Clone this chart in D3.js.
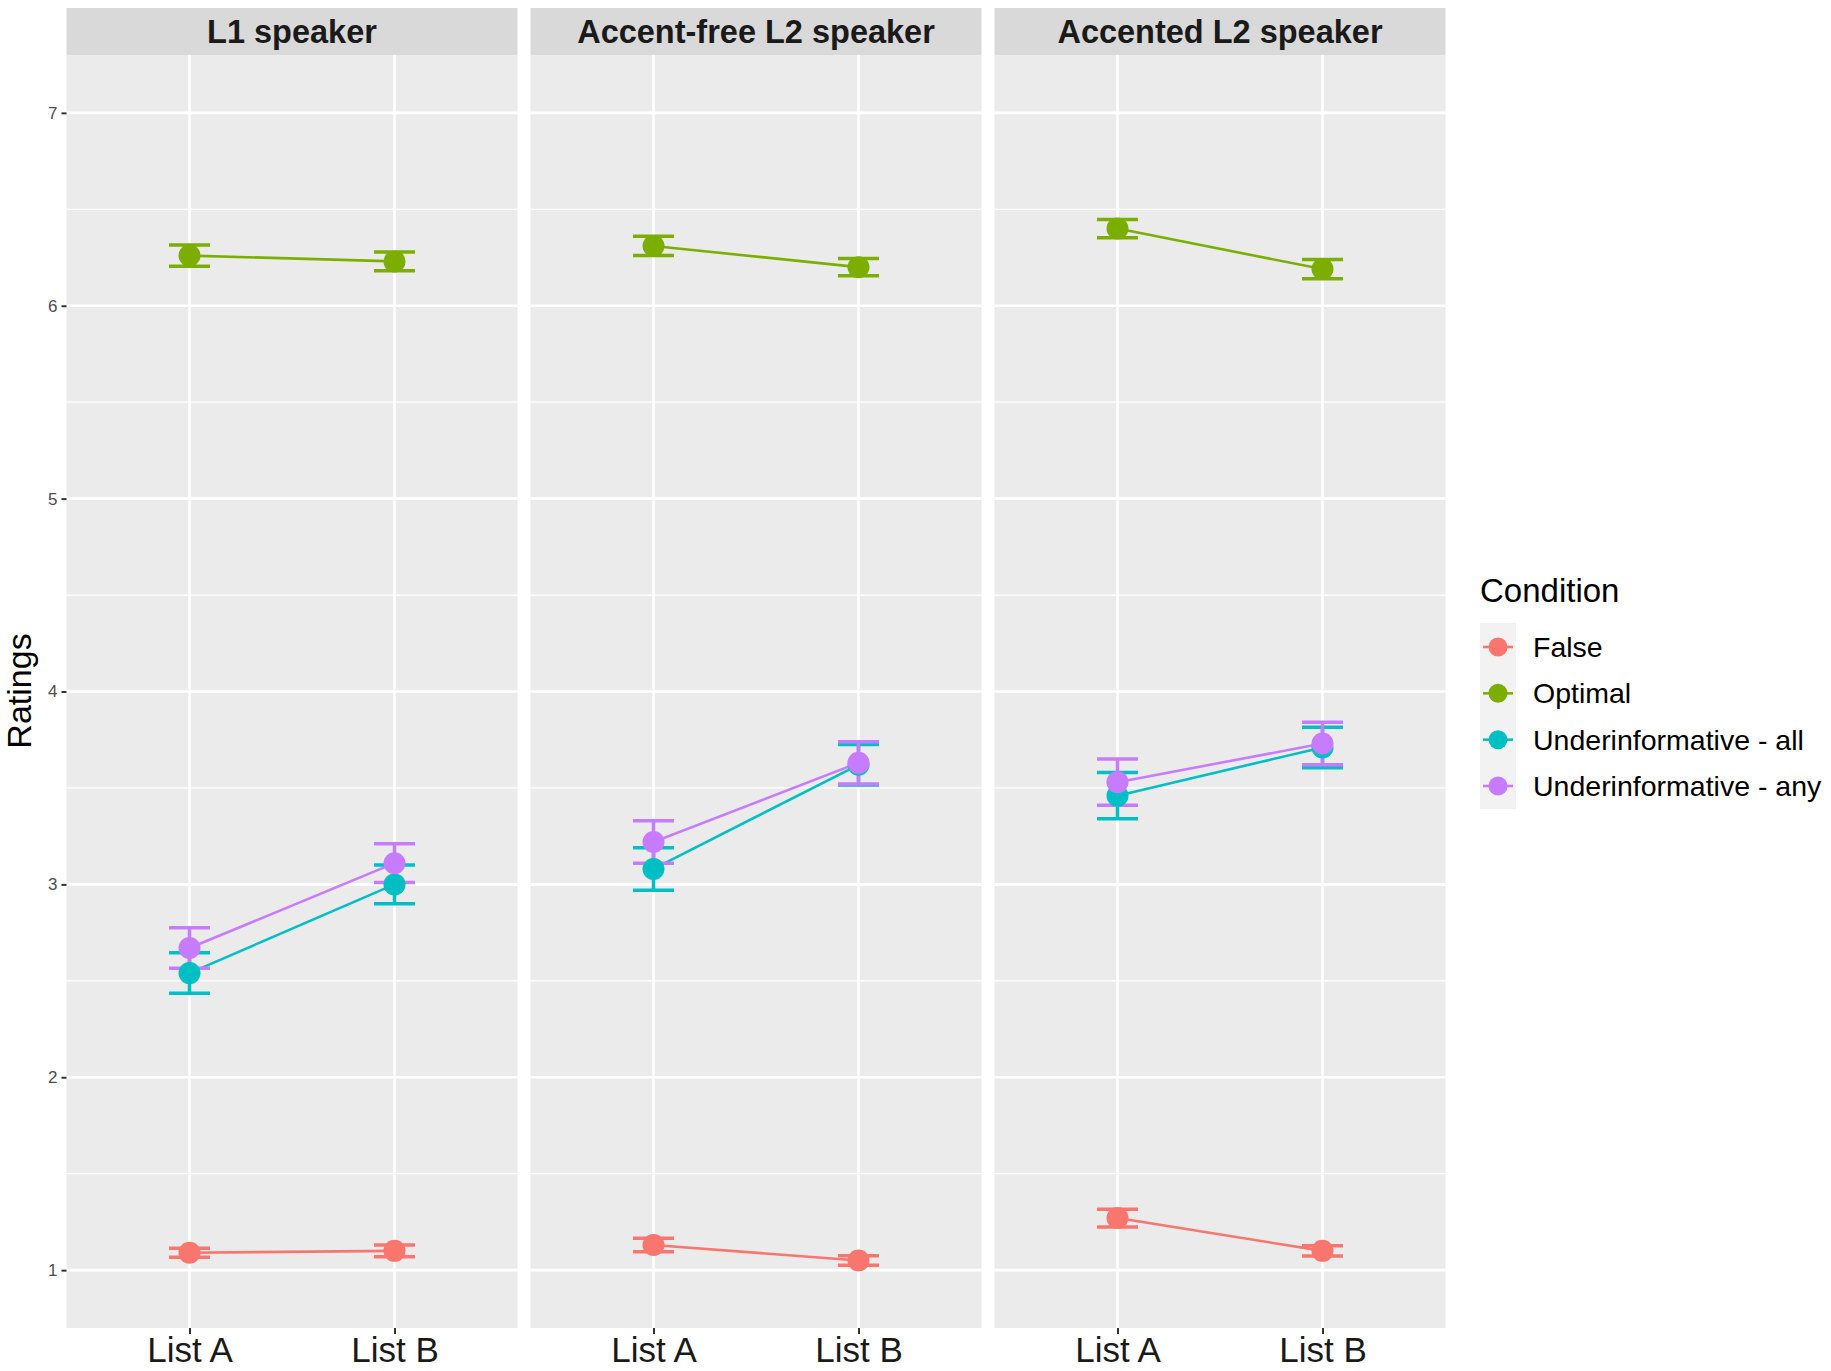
<!DOCTYPE html>
<html>
<head>
<meta charset="utf-8">
<script src="https://cdn.jsdelivr.net/npm/d3@7"></script>
<style>
  body { margin: 0; background: #fff; }
  text { font-family: "Liberation Sans", Arial, sans-serif; }
</style>
</head>
<body>
<div class="graphHere"></div>
<script>
// data
var speakers = ["L1 speaker", "Accent-free L2 speaker", "Accented L2 speaker"];
var lists = ["List A", "List B"];
var conditions = ["False", "Optimal", "Underinformative - all", "Underinformative - any"];
var colours = ["#F8766D", "#7CAE00", "#00BFC4", "#C77CFF"];
var yTicks = [1, 2, 3, 4, 5, 6, 7];

// means and standard errors, order: L1 A, L1 B, free A, free B, accented A, accented B
var falseMean = [1.09, 1.10, 1.13, 1.05, 1.27, 1.10];
var falseSE = [0.023, 0.03, 0.035, 0.025, 0.046, 0.027];
var optimalMean = [6.26, 6.23, 6.31, 6.20, 6.40, 6.19];
var optimalSE = [0.055, 0.048, 0.05, 0.045, 0.047, 0.05];
var allMean = [2.54, 3.00, 3.08, 3.62, 3.46, 3.71];
var allSE = [0.105, 0.10, 0.11, 0.105, 0.12, 0.105];
var anyMean = [2.67, 3.11, 3.22, 3.63, 3.53, 3.73];
var anySE = [0.105, 0.10, 0.11, 0.11, 0.12, 0.11];

var means = [falseMean, optimalMean, allMean, anyMean];
var ses = [falseSE, optimalSE, allSE, anySE];

var rows = [];
conditions.forEach(function(c, ci){
  speakers.forEach(function(s, si){
    lists.forEach(function(l, li){
      var k = si * 2 + li;
      rows.push({condition: c, speaker: s, list: l, mean: means[ci][k], se: ses[ci][k]});
    });
  });
});

var W = 1831, H = 1371;
var svg = d3.select(".graphHere").append("svg")
  .attr("width", W)
  .attr("height", H);

var stripTop = 8, plotTop = 55, plotBottom = 1328;

var facet = d3.scaleBand().domain(speakers).range([66.5, 1445.5]).paddingInner(0.028).paddingOuter(0);
var y = d3.scaleLinear().domain([0.7, 7.3]).range([plotBottom, plotTop]);
var colour = d3.scaleOrdinal().domain(conditions).range(colours);
var minorTicks = [1.5, 2.5, 3.5, 4.5, 5.5, 6.5];

speakers.forEach(function(s){
  var x0 = facet(s), bw = facet.bandwidth();
  var x = d3.scalePoint().domain(lists).range([x0, x0 + bw]).padding(0.6);
  var g = svg.append("g").attr("class", "panel");

  g.append("rect")
    .attr("x", x0).attr("y", plotTop)
    .attr("width", bw).attr("height", plotBottom - plotTop)
    .attr("fill", "#EBEBEB");

  g.selectAll(".minor").data(minorTicks).enter().append("line")
    .attr("x1", x0).attr("x2", x0 + bw)
    .attr("y1", function(d){ return y(d); }).attr("y2", function(d){ return y(d); })
    .attr("stroke", "#fff").attr("stroke-width", 1.3);

  g.selectAll(".major").data(yTicks).enter().append("line")
    .attr("x1", x0).attr("x2", x0 + bw)
    .attr("y1", function(d){ return y(d); }).attr("y2", function(d){ return y(d); })
    .attr("stroke", "#fff").attr("stroke-width", 2.6);

  g.selectAll(".vmajor").data(lists).enter().append("line")
    .attr("x1", function(d){ return x(d); }).attr("x2", function(d){ return x(d); })
    .attr("y1", plotTop).attr("y2", plotBottom)
    .attr("stroke", "#fff").attr("stroke-width", 2.6);

  // strip
  g.append("rect")
    .attr("x", x0).attr("y", stripTop)
    .attr("width", bw).attr("height", plotTop - stripTop)
    .attr("fill", "#D9D9D9");
  g.append("text")
    .attr("x", x0 + bw / 2).attr("y", 43)
    .attr("text-anchor", "middle")
    .attr("font-size", 32.5).attr("font-weight", "bold")
    .attr("fill", "#1A1A1A")
    .text(s);

  // x axis
  var xAxis = g.append("g")
    .attr("transform", "translate(0," + plotBottom + ")")
    .call(d3.axisBottom(x).tickSize(6).tickPadding(3));
  xAxis.select(".domain").remove();
  xAxis.selectAll("line").attr("stroke", "#333").attr("stroke-width", 2);
  xAxis.selectAll("text")
    .attr("font-size", 35).attr("fill", "#1A1A1A")
    .attr("font-family", "Liberation Sans, Arial, sans-serif");

  var data = rows.filter(function(r){ return r.speaker == s; });

  // lines
  conditions.forEach(function(c){
    var pts = data.filter(function(r){ return r.condition == c; });
    g.append("path")
      .datum(pts)
      .attr("fill", "none")
      .attr("stroke", colour(c))
      .attr("stroke-width", 2.6)
      .attr("d", d3.line().x(function(d){ return x(d.list); }).y(function(d){ return y(d.mean); }));
  });

  // error bars and points
  conditions.forEach(function(c){
    var pts = data.filter(function(r){ return r.condition == c; });
    var eb = g.selectAll(null).data(pts).enter().append("g")
      .attr("stroke", colour(c)).attr("stroke-width", 3.5);
    eb.append("line")
      .attr("x1", function(d){ return x(d.list); }).attr("x2", function(d){ return x(d.list); })
      .attr("y1", function(d){ return y(d.mean - d.se); }).attr("y2", function(d){ return y(d.mean + d.se); });
    eb.append("line")
      .attr("x1", function(d){ return x(d.list) - 20.5; }).attr("x2", function(d){ return x(d.list) + 20.5; })
      .attr("y1", function(d){ return y(d.mean - d.se); }).attr("y2", function(d){ return y(d.mean - d.se); });
    eb.append("line")
      .attr("x1", function(d){ return x(d.list) - 20.5; }).attr("x2", function(d){ return x(d.list) + 20.5; })
      .attr("y1", function(d){ return y(d.mean + d.se); }).attr("y2", function(d){ return y(d.mean + d.se); });
  });
  conditions.forEach(function(c){
    var pts = data.filter(function(r){ return r.condition == c; });
    g.selectAll(null).data(pts).enter().append("circle")
      .attr("cx", function(d){ return x(d.list); })
      .attr("cy", function(d){ return y(d.mean); })
      .attr("r", 11)
      .attr("fill", colour(c));
  });
});

// y axis
var yAxis = svg.append("g")
  .attr("transform", "translate(66.5,0)")
  .call(d3.axisLeft(y).tickValues(yTicks).tickSize(5).tickPadding(4).tickFormat(d3.format("d")));
yAxis.select(".domain").remove();
yAxis.selectAll("line").attr("stroke", "#333").attr("stroke-width", 2);
yAxis.selectAll("text")
  .attr("font-size", 17).attr("fill", "#4D4D4D")
  .attr("font-family", "Liberation Sans, Arial, sans-serif");

svg.append("text")
  .attr("transform", "translate(31,691) rotate(-90)")
  .attr("text-anchor", "middle")
  .attr("font-size", 34)
  .attr("fill", "#000")
  .text("Ratings");

// legend
var legend = svg.append("g").attr("transform", "translate(1480,0)");
legend.append("text")
  .attr("x", 0).attr("y", 602)
  .attr("font-size", 33).attr("fill", "#000")
  .text("Condition");
legend.append("rect")
  .attr("x", 0).attr("y", 623)
  .attr("width", 36).attr("height", 186)
  .attr("fill", "#F2F2F2");
var keyY = d3.scalePoint().domain(conditions).range([647, 786]);
var item = legend.selectAll(".key").data(conditions).enter().append("g")
  .attr("transform", function(d){ return "translate(0," + keyY(d) + ")"; });
item.append("line")
  .attr("x1", 3).attr("x2", 33)
  .attr("stroke", function(d){ return colour(d); })
  .attr("stroke-width", 2.6);
item.append("circle")
  .attr("cx", 18).attr("r", 9.5)
  .attr("fill", function(d){ return colour(d); });
item.append("text")
  .attr("x", 53).attr("dy", "0.35em")
  .attr("font-size", 28.5).attr("fill", "#000")
  .text(function(d){ return d; });
</script>
</body>
</html>
